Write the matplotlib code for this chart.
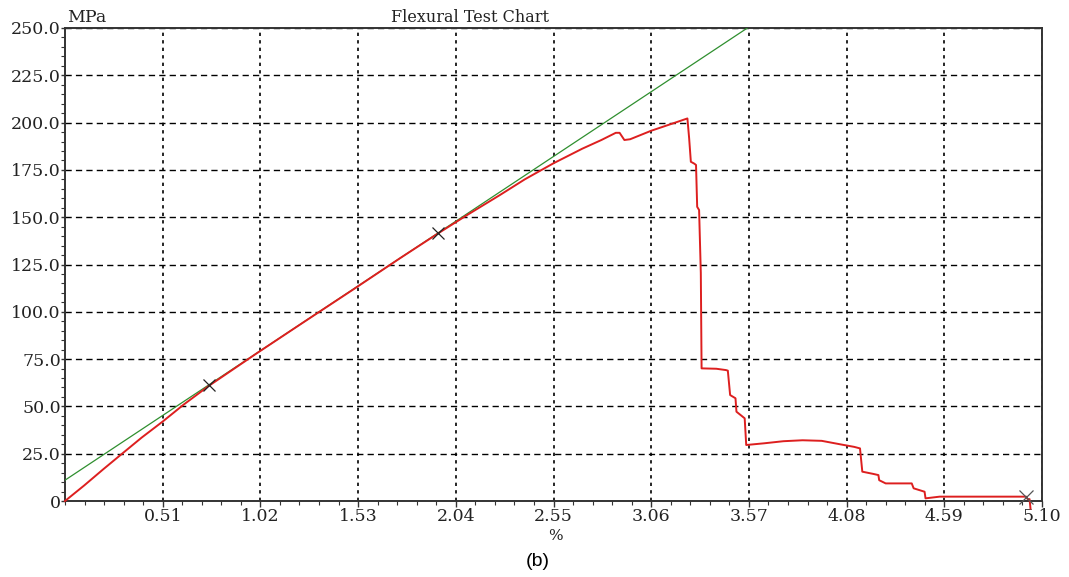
import matplotlib
matplotlib.use("Agg")
import matplotlib.pyplot as plt
from matplotlib.ticker import FixedLocator, AutoMinorLocator

# ---- data ----
strain = [0.0, 0.10, 0.20, 0.28, 0.40, 0.51, 0.62, 0.75, 1.00, 1.25, 1.50, 1.75, 1.95,
          2.10, 2.27, 2.40, 2.55, 2.70, 2.80, 2.875, 2.895, 2.92, 2.95, 3.06, 3.20,
          3.249, 3.258, 3.267, 3.285, 3.294, 3.300, 3.310, 3.319, 3.323, 3.40, 3.45,
          3.46, 3.472, 3.50, 3.505, 3.548, 3.556, 3.65, 3.75, 3.85, 3.95, 4.05, 4.12,
          4.15, 4.162, 4.22, 4.246, 4.25, 4.284, 4.42, 4.43, 4.487, 4.492, 4.566,
          5.017, 5.025, 5.035, 5.04]
stress = [0.0, 8.2, 16.8, 23.5, 33.5, 42.0, 51.0, 60.8, 78.0, 94.8, 111.5, 128.4, 141.6,
          151.2, 161.7, 170.0, 178.5, 186.2, 190.8, 194.6, 194.6, 190.8, 191.2, 195.7, 200.5,
          202.2, 191.8, 179.3, 178.3, 177.6, 155.5, 153.8, 120.5, 70.1, 69.9, 69.2,
          68.9, 56.0, 54.3, 47.2, 43.7, 29.6, 30.5, 31.6, 32.1, 31.8, 29.9, 28.6,
          27.8, 15.5, 14.3, 13.7, 11.0, 9.3, 9.3, 6.7, 4.9, 1.4, 2.3,
          2.3, 1.0, 1.0, -4.0]

modulus_x = [0.0, 3.562]
modulus_y = [11.0, 250.0]

marker_x = [0.751, 1.948]
marker_y = [61.4, 141.7]
break_x = [5.017]
break_y = [2.3]

xticks = [0.51, 1.02, 1.53, 2.04, 2.55, 3.06, 3.57, 4.08, 4.59, 5.10]
xtick_labels = ["0.51", "1.02", "1.53", "2.04", "2.55", "3.06", "3.57", "4.08", "4.59", "5.10"]
yticks = [0, 25, 50, 75, 100, 125, 150, 175, 200, 225, 250]
ytick_labels = ["0", "25.0", "50.0", "75.0", "100.0", "125.0", "150.0", "175.0",
                "200.0", "225.0", "250.0"]

# ---- figure ----
W, H = 1069, 577
fig = plt.figure(figsize=(W / 100, H / 100), dpi=100)
ax = fig.add_axes([65 / W, 1 - 501 / H, (1042 - 65) / W, (501 - 28) / H])

ax.set_xlim(0, 5.10)
ax.set_ylim(0, 250)

serif = "DejaVu Serif"

ax.plot(modulus_x, modulus_y, color="#2f8f2f", lw=0.9, zorder=3)
ax.plot(strain, stress, color="#dd1f1f", lw=1.4, zorder=4, clip_on=False)
ax.plot(marker_x, marker_y, ls="none", marker="x", ms=8, mew=0.9, color="#222222", zorder=5)
ax.plot(break_x, break_y, ls="none", marker="x", ms=10, mew=0.9, color="#555555", zorder=5,
        clip_on=False)

ax.xaxis.set_major_locator(FixedLocator(xticks))
ax.set_xticklabels(xtick_labels, fontfamily=serif, fontsize=12.5, color="#222222")
ax.yaxis.set_major_locator(FixedLocator(yticks))
ax.set_yticklabels(ytick_labels, fontfamily=serif, fontsize=12.5, color="#222222")
ax.xaxis.set_minor_locator(AutoMinorLocator(5))
ax.yaxis.set_minor_locator(AutoMinorLocator(5))
ax.tick_params(axis="x", which="major", direction="out", length=4, width=1.0,
               color="#333333", pad=1)
ax.tick_params(axis="y", which="major", direction="out", length=3, width=1.0,
               color="#333333", pad=0)
ax.tick_params(axis="both", which="minor", direction="out", length=3, width=0.8,
               color="#333333")

ax.grid(True, axis="x", which="major", color="black", ls=(0, (2.0, 2.5)), lw=1.2)
ax.grid(True, axis="y", which="major", color="black", ls=(0, (4.5, 3.0)), lw=1.0)

for s in ax.spines.values():
    s.set_linewidth(1.4)
    s.set_color("#333333")

fig.text(470 / W, 1 - 17 / H, "Flexural Test Chart", fontfamily=serif, fontsize=11.5,
         ha="center", va="center", color="#222222")
fig.text(67 / W, 1 - 18 / H, "MPa", fontfamily=serif, fontsize=12.5, ha="left",
         va="center", color="#222222")
fig.text(555 / W, 1 - 536 / H, "%", fontfamily=serif, fontsize=11, ha="center",
         va="center", color="#222222")
fig.text(538 / W, 1 - 562 / H, "(b)", fontfamily="Liberation Sans", fontsize=14,
         ha="center", va="center", color="black")

fig.savefig("out.png", dpi=100)
